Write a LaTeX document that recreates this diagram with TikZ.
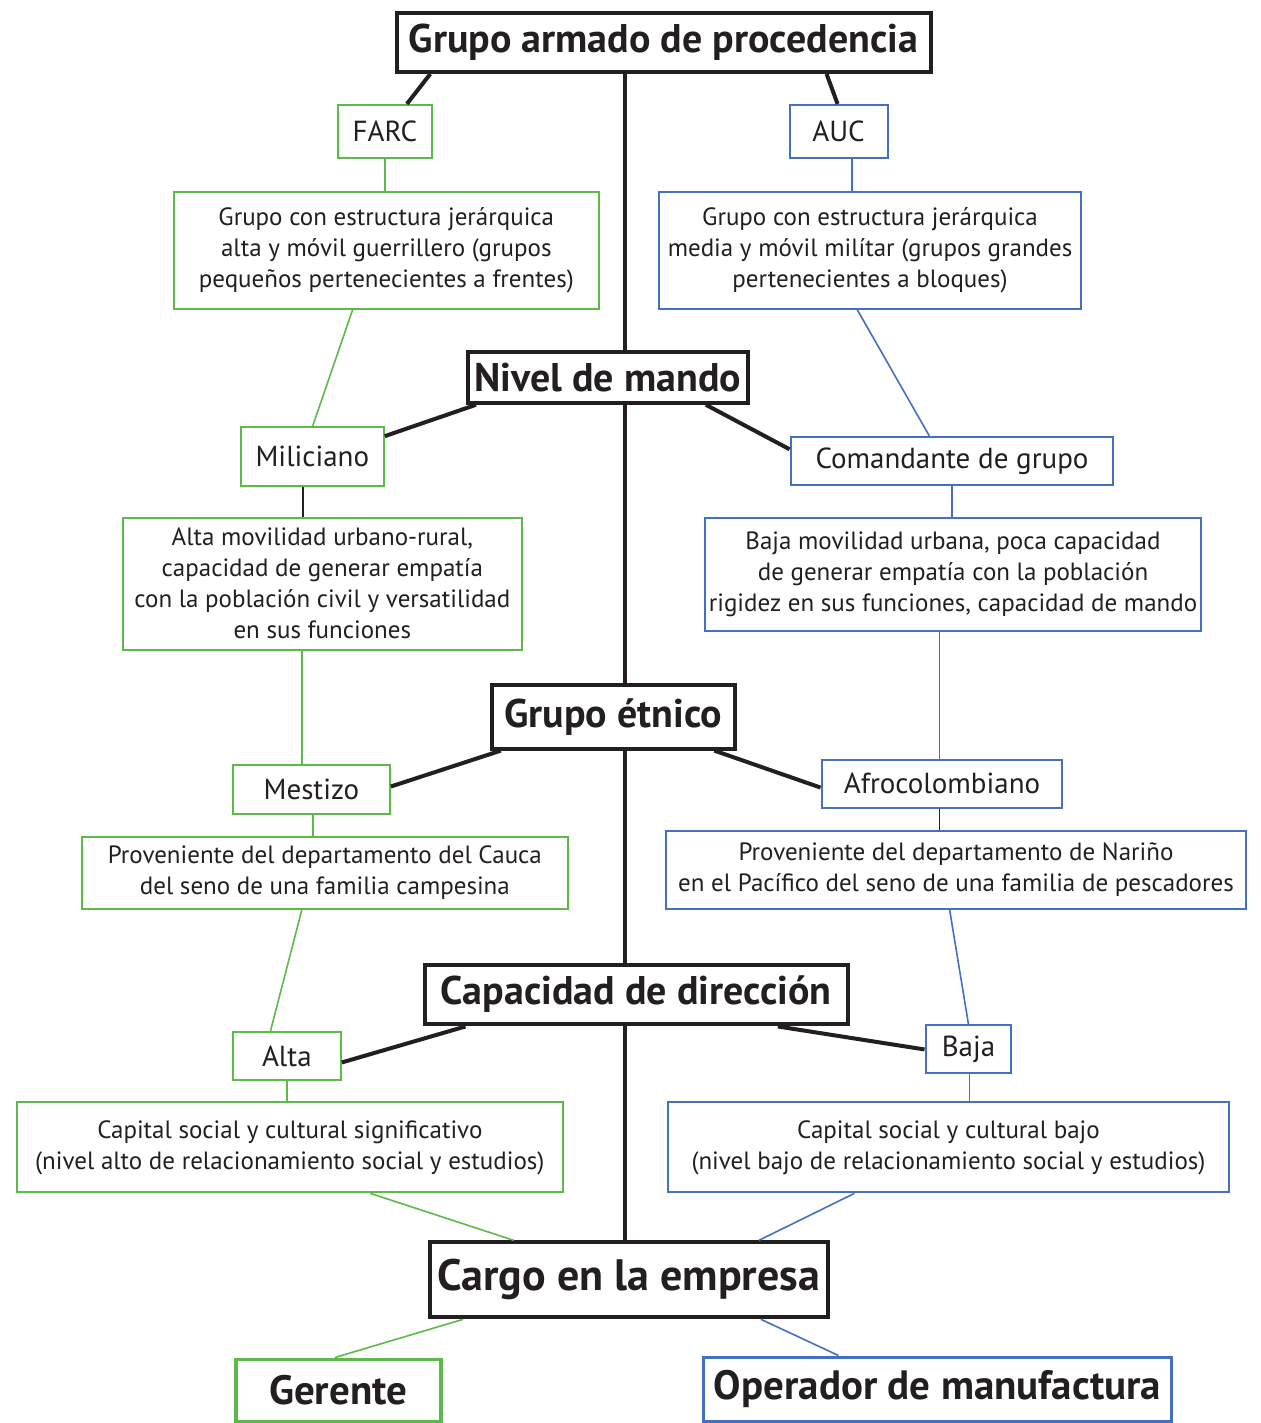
\documentclass[tikz,border=0pt]{standalone}
\usepackage{fontspec}
\setmainfont{PT Sans}
\usetikzlibrary{calc}
\pgfdeclarelayer{bg}
\pgfsetlayers{bg,main}
\definecolor{grn}{RGB}{92,186,72}
\definecolor{blu}{RGB}{68,112,196}
\definecolor{ink}{RGB}{35,31,32}
\tikzset{
  head/.style={draw=ink, line width=4pt, fill=white, inner sep=0pt, text=ink,
    font=\bfseries\fontsize{40}{44}\selectfont},
  gbox/.style={draw=grn, line width=2pt, fill=white, inner sep=0pt, align=center, text=ink,
    font=\fontsize{25}{31}\selectfont},
  bbox/.style={gbox, draw=blu},
  glbl/.style={gbox, font=\fontsize{29}{32}\selectfont},
  blbl/.style={glbl, draw=blu},
  gfin/.style={gbox, line width=3.5pt, font=\bfseries\fontsize{41}{44}\selectfont},
  bfin/.style={gfin, draw=blu},
  kline/.style={draw=ink, line width=4pt},
  gline/.style={draw=grn, line width=1.6pt},
  bline/.style={draw=blu, line width=1.6pt},
  dline/.style={draw=ink, line width=1.6pt}
}
\begin{document}
\begin{tikzpicture}[x=1pt,y=-1pt]
\begin{pgfonlayer}{bg}
\useasboundingbox[fill=white] (0,0) rectangle (1261,1423);
\end{pgfonlayer}
% headings
\node[head, minimum width=534pt, minimum height=59pt] (h1) at (664,42.5) {Grupo armado de procedencia};
\node[head, minimum width=280pt, minimum height=51pt] (h2) at (608,377.5) {Nivel de mando};
\node[head, minimum width=243pt, minimum height=64pt] (h3) at (613.5,717) {Grupo étnico};
\node[head, minimum width=423pt, minimum height=60pt] (h4) at (636.5,995) {Capacidad de dirección};
\node[head, minimum width=398pt, minimum height=75pt, font=\bfseries\fontsize{44}{48}\selectfont] (h5) at (629,1280.5) {Cargo en la empresa};
% central spine, behind the headings
\begin{pgfonlayer}{bg}
\path ($(h1.south west)!0.429!(h1.south east)$) coordinate (sp);
\draw[kline] (sp) -- (sp |- h5.north);
\end{pgfonlayer}
% left column
\node[glbl, minimum width=94pt, minimum height=53pt] (farc) at (385,131.5) {FARC};
\node[gbox, minimum width=425pt, minimum height=117pt] (g1) at (386.5,250.5) {Grupo con estructura jerárquica\\alta y móvil guerrillero (grupos\\pequeños pertenecientes a frentes)};
\node[glbl, minimum width=143pt, minimum height=59pt] (mil) at (312.5,456.5) {Miliciano};
\node[gbox, minimum width=399pt, minimum height=132pt] (g2) at (322.5,584) {Alta movilidad urbano-rural,\\capacidad de generar empatía\\con la población civil y versatilidad\\en sus funciones};
\node[glbl, minimum width=157pt, minimum height=49pt] (mes) at (311.5,789.5) {Mestizo};
\node[gbox, minimum width=486pt, minimum height=72pt] (g3) at (325,873) {Proveniente del departamento del Cauca\\del seno de una familia campesina};
\node[glbl, minimum width=108pt, minimum height=48pt] (alta) at (287,1057) {Alta};
\node[gbox, minimum width=546pt, minimum height=90pt] (g4) at (290,1148) {Capital social y cultural significativo\\(nivel alto de relacionamiento social y estudios)};
\node[gfin, minimum width=205pt, minimum height=62pt] (ger) at (338.5,1391) {Gerente};
% right column
\node[blbl, minimum width=98pt, minimum height=53pt] (auc) at (839,131.5) {AUC};
\node[bbox, minimum width=423pt, minimum height=117pt] (b1) at (870.5,250.5) {Grupo con estructura jerárquica\\media y móvil milítar (grupos grandes\\pertenecientes a bloques)};
\node[blbl, minimum width=323pt, minimum height=48pt] (com) at (952.5,461) {Comandante de grupo};
\node[bbox, minimum width=497pt, minimum height=113pt] (b2) at (953.5,574.5) {Baja movilidad urbana, poca capacidad\\de generar empatía con la población\\rigidez en sus funciones, capacidad de mando};
\node[blbl, minimum width=241pt, minimum height=48pt] (afro) at (942.5,784) {Afrocolombiano};
\node[bbox, minimum width=581pt, minimum height=78pt] (b3) at (956.5,870) {Proveniente del departamento de Nariño\\en el Pacífico del seno de una familia de pescadores};
\node[blbl, minimum width=86pt, minimum height=48pt] (baja) at (969,1050) {Baja};
\node[bbox, minimum width=562pt, minimum height=90pt] (b4) at (949,1148) {Capital social y cultural bajo\\(nivel bajo de relacionamiento social y estudios)};
\node[bfin, minimum width=468pt, minimum height=64pt] (op) at (938,1390) {Operador de manufactura};
% thick black connectors
\draw[kline] ($(h1.south west)!0.066!(h1.south east)$) -- ($(farc.north west)!0.73!(farc.north east)$);
\draw[kline] ($(h1.south west)!0.803!(h1.south east)$) -- ($(auc.north west)!0.49!(auc.north east)$);
\draw[kline] ($(h2.south west)!0.036!(h2.south east)$) -- ($(mil.north east)!0.17!(mil.south east)$);
\draw[kline] ($(h2.south west)!0.846!(h2.south east)$) -- ($(com.north west)!0.27!(com.south west)$);
\draw[kline] ($(h3.south west)!0.045!(h3.south east)$) -- ($(mes.north east)!0.45!(mes.south east)$);
\draw[kline] ($(h3.south west)!0.91!(h3.south east)$) -- ($(afro.north west)!0.58!(afro.south west)$);
\draw[kline] ($(h4.south west)!0.10!(h4.south east)$) -- ($(alta.north east)!0.62!(alta.south east)$);
\draw[kline] ($(h4.south west)!0.832!(h4.south east)$) -- ($(baja.north west)!0.5!(baja.south west)$);
% left thin connectors
\draw[gline] (farc.south) -- (farc.south |- g1.north);
\draw[gline] ($(g1.south west)!0.421!(g1.south east)$) -- ($(mil.north west)!0.503!(mil.north east)$);
\path ($(mil.south west)!0.434!(mil.south east)$) coordinate (m1);
\draw[dline] (m1) -- (m1 |- g2.north);
\path ($(g2.south west)!0.449!(g2.south east)$) coordinate (m2);
\draw[gline] (m2) -- (m2 |- mes.north);
\path ($(mes.south west)!0.51!(mes.south east)$) coordinate (m3);
\draw[gline] (m3) -- (m3 |- g3.north);
\draw[gline] ($(g3.south west)!0.453!(g3.south east)$) -- ($(alta.north west)!0.35!(alta.north east)$);
\draw[gline] (alta.south) -- (alta.south |- g4.north);
\draw[gline] ($(g4.south west)!0.647!(g4.south east)$) -- ($(h5.north west)!0.214!(h5.north east)$);
\draw[gline] ($(h5.south west)!0.088!(h5.south east)$) -- ($(ger.north west)!0.483!(ger.north east)$);
% right thin connectors
\path ($(auc.south west)!0.633!(auc.south east)$) coordinate (a1);
\draw[bline] (a1) -- (a1 |- b1.north);
\draw[bline] ($(b1.south west)!0.47!(b1.south east)$) -- ($(com.north west)!0.43!(com.north east)$);
\path ($(com.south west)!0.50!(com.south east)$) coordinate (a2);
\draw[bline] (a2) -- (a2 |- b2.north);
\path ($(b2.south west)!0.473!(b2.south east)$) coordinate (a3);
\draw[bline] (a3) -- (a3 |- afro.north);
\path ($(afro.south west)!0.49!(afro.south east)$) coordinate (a4);
\draw[dline] (a4) -- (a4 |- b3.north);
\draw[bline] ($(b3.south west)!0.489!(b3.south east)$) -- ($(baja.north west)!0.5!(baja.north east)$);
\path ($(baja.south west)!0.51!(baja.south east)$) coordinate (a5);
\draw[bline] (a5) -- (a5 |- b4.north);
\draw[bline] ($(b4.south west)!0.333!(b4.south east)$) -- ($(h5.north west)!0.824!(h5.north east)$);
\draw[bline] ($(h5.south west)!0.829!(h5.south east)$) -- ($(op.north west)!0.29!(op.north east)$);
\end{tikzpicture}
\end{document}
